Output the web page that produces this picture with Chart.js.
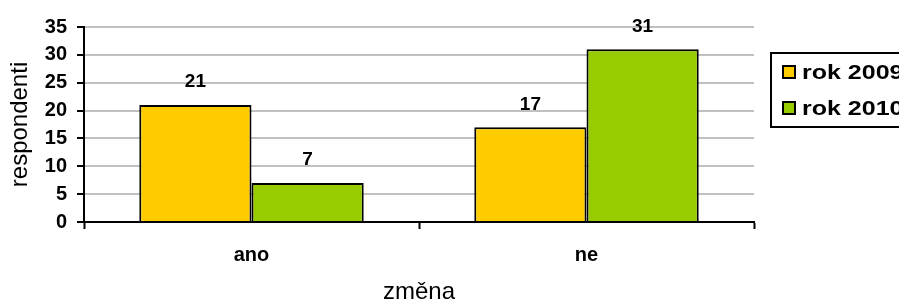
<!DOCTYPE html>
<html>
<head>
<meta charset="utf-8">
<script src="https://cdn.jsdelivr.net/npm/chart.js@4/dist/chart.umd.min.js"></script>
<style>
  html, body { margin: 0; padding: 0; background: #fff; }
  #wrap { width: 899px; height: 303px; position: relative; }
</style>
</head>
<body>
<div id="wrap"><canvas id="chart"></canvas></div>
<script>
"use strict"

// Data
const categories = ['ano', 'ne'];
const rok2009 = [21, 17];
const rok2010 = [7, 31];
const seriesNames = ['rok 2009', 'rok 2010'];
const yTicks = [0, 5, 10, 15, 20, 25, 30, 35];

const fontFamily = '"Liberation Sans", Arial, sans-serif';

// Popisky hodnot nad sloupci
const valueLabels = {
    id: 'valueLabels',
    afterDatasetsDraw(chart) {
        const ctx = chart.ctx;
        ctx.save();
        ctx.font = 'bold 19px ' + fontFamily;
        ctx.fillStyle = '#000';
        ctx.textAlign = 'center';
        ctx.textBaseline = 'middle';
        chart.data.datasets.forEach((ds, i) => {
            chart.getDatasetMeta(i).data.forEach((bar, j) => {
                ctx.fillText(String(ds.data[j]), bar.x, bar.y - 23);
            });
        });
        ctx.restore();
    }
};

// Legenda v rámečku vpravo
const boxLegend = {
    id: 'boxLegend',
    afterDraw(chart) {
        const ctx = chart.ctx;
        ctx.save();
        ctx.strokeStyle = '#000';
        ctx.lineWidth = 2;
        ctx.strokeRect(771, 53, 140, 74);
        ctx.textAlign = 'left';
        ctx.textBaseline = 'middle';
        chart.data.datasets.forEach((ds, i) => {
            const cy = 72 + i * 36;
            ctx.fillStyle = ds.backgroundColor;
            ctx.fillRect(783, cy - 6, 12, 12);
            ctx.lineWidth = 2;
            ctx.strokeRect(783, cy - 6, 12, 12);
            // text je v originale roztazeny do sirky
            ctx.save();
            ctx.translate(802, cy + 1);
            ctx.scale(1.25, 1);
            ctx.font = 'bold 20px ' + fontFamily;
            ctx.fillStyle = '#000';
            ctx.fillText(ds.label, 0, 0);
            ctx.restore();
        });
        ctx.restore();
    }
};

new Chart(document.getElementById('chart'), {
    type: 'bar',
    data: {
        labels: categories,
        datasets: [{
            label: seriesNames[0],
            data: rok2009,
            backgroundColor: '#FFCC00',
            borderColor: '#000',
            borderWidth: 2,
            categoryPercentage: 0.67,
            barPercentage: 1
        }, {
            label: seriesNames[1],
            data: rok2010,
            backgroundColor: '#99CC00',
            borderColor: '#000',
            borderWidth: 2,
            categoryPercentage: 0.67,
            barPercentage: 1
        }]
    },
    options: {
        responsive: true,
        maintainAspectRatio: false,
        animation: false,
        layout: { padding: { left: 0, top: 27, right: 145, bottom: 0 } },
        plugins: {
            legend: { display: false },
            tooltip: { enabled: false }
        },
        scales: {
            x: {
                afterFit: (s) => { s.height = 81; },
                grid: {
                    offset: true,
                    drawOnChartArea: false,
                    drawTicks: true,
                    tickLength: 7,
                    tickColor: '#000',
                    tickWidth: 2
                },
                border: { color: '#000', width: 2 },
                ticks: {
                    color: '#000',
                    padding: 14,
                    font: { family: fontFamily, size: 20, weight: 'bold' }
                },
                title: {
                    display: true,
                    text: 'změna',
                    color: '#000',
                    padding: { top: 0, bottom: -4 },
                    font: { family: fontFamily, size: 24 }
                }
            },
            y: {
                min: 0,
                max: 35,
                afterFit: (s) => { s.width = 84; },
                afterBuildTicks: (s) => { s.ticks = yTicks.map((v) => ({ value: v })); },
                grid: {
                    color: '#C0C0C0',
                    lineWidth: 2,
                    drawTicks: true,
                    tickLength: 7,
                    tickColor: '#000',
                    tickWidth: 2
                },
                border: { color: '#000', width: 2 },
                ticks: {
                    color: '#000',
                    padding: 10,
                    font: { family: fontFamily, size: 20, weight: 'bold' }
                },
                title: {
                    display: true,
                    text: 'respondenti',
                    color: '#000',
                    padding: { top: 6, bottom: 0 },
                    font: { family: fontFamily, size: 24 }
                }
            }
        }
    },
    plugins: [valueLabels, boxLegend]
});
</script>
</body>
</html>
